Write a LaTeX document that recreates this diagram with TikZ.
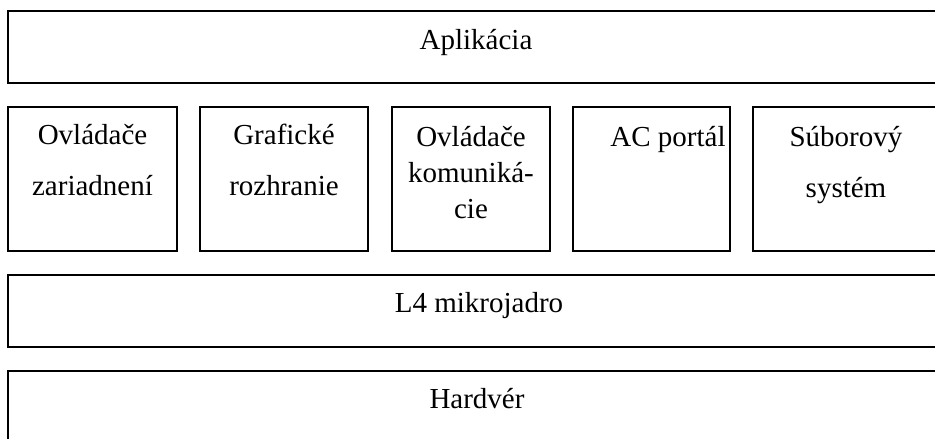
\documentclass[tikz,border=0pt]{standalone}
\usepackage{fontspec}
\setmainfont{Liberation Serif}
\begin{document}
\begin{tikzpicture}[x=1pt,y=-1pt,
  layer/.style={draw=black, line width=1.3pt, fill=none, inner sep=0pt, outer sep=0pt,
                anchor=north west, rectangle},
  lbl/.style={anchor=base, inner sep=0pt, font=\fontsize{29}{35}\selectfont}]
  \useasboundingbox (0,0) rectangle (935,439);
  \clip (0,0) rectangle (935,439);

  % application layer
  \node[layer, minimum width=936pt, minimum height=72pt] (app) at (8,11) {};
  \node[lbl] (appT) at (476,49) {Aplikácia};

  % user-space servers
  \node[layer, minimum width=169pt, minimum height=144pt] (drv) at (8,107) {};
  \node[layer, minimum width=168pt, minimum height=144pt] (gui) at (200,107) {};
  \node[layer, minimum width=158pt, minimum height=144pt] (com) at (392,107) {};
  \node[layer, minimum width=157pt, minimum height=144pt] (ac)  at (573,107) {};
  \node[layer, minimum width=190pt, minimum height=144pt] (fs)  at (753,107) {};

  \node[lbl] (drvA) at (92.5,144) {Ovládače};
  \node[lbl] (drvB) at (92.5,195) {zariadnení};
  \node[lbl] (guiA) at (284,144) {Grafické};
  \node[lbl] (guiB) at (284,195) {rozhranie};
  \node[lbl] (comA) at (471,146) {Ovládače};
  \node[lbl] (comB) at (471,182) {komuniká-};
  \node[lbl] (comC) at (471,218) {cie};
  \node[lbl] (acA)  at (668,146) {AC portál};
  \node[lbl] (fsA)  at (846,146) {Súborový};
  \node[lbl] (fsB)  at (846,197) {systém};

  % microkernel
  \node[layer, minimum width=936pt, minimum height=72pt] (krn) at (8,275) {};
  \node[lbl] (krnT) at (479,312) {L4 mikrojadro};

  % hardware
  \node[layer, minimum width=936pt, minimum height=80pt] (hw) at (8,371) {};
  \node[lbl] (hwT) at (477,408) {Hardvér};
\end{tikzpicture}
\end{document}
